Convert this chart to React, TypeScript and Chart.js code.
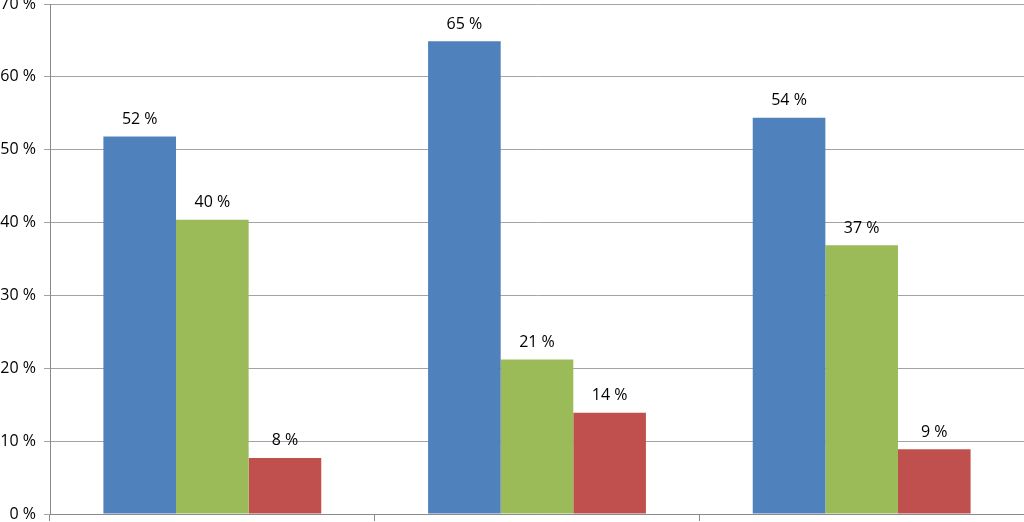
import { useEffect, useRef } from 'react';
import { Chart, registerables } from 'chart.js';

Chart.register(...registerables);

const categories = ['Group 1', 'Group 2', 'Group 3'];
const seriesBlue = [51.8, 64.9, 54.4];
const seriesGreen = [40.4, 21.2, 36.9];
const seriesRed = [7.7, 13.9, 8.9];
const yTickValues = [0, 10, 20, 30, 40, 50, 60, 70];

const colors = ['#4F81BD', '#9BBB59', '#C0504D'];
const FONT = '"Open Sans", "Noto Sans", sans-serif';

const valueLabels = {
  id: 'valueLabels',
  afterDatasetsDraw(chart: any) {
    const ctx = chart.ctx;
    ctx.save();
    ctx.font = `16px ${FONT}`;
    ctx.fillStyle = '#000';
    ctx.textAlign = 'center';
    ctx.textBaseline = 'middle';
    chart.data.datasets.forEach((ds: any, i: number) => {
      const meta = chart.getDatasetMeta(i);
      meta.data.forEach((bar: any, j: number) => {
        ctx.fillText(Math.round(ds.data[j]) + ' %', bar.x, bar.y - 17);
      });
    });
    ctx.restore();
  },
};

export default function App() {
  const ref = useRef<HTMLCanvasElement | null>(null);
  useEffect(() => {
    document.body.style.margin = '0';
    const chart = new Chart(ref.current as HTMLCanvasElement, {
      type: 'bar',
      data: {
        labels: categories,
        datasets: [
          { label: 'A', data: seriesBlue, backgroundColor: colors[0], borderWidth: 0 },
          { label: 'B', data: seriesGreen, backgroundColor: colors[1], borderWidth: 0 },
          { label: 'C', data: seriesRed, backgroundColor: colors[2], borderWidth: 0 },
        ],
      },
      options: {
        animation: false,
        responsive: true,
        maintainAspectRatio: false,
        layout: { padding: { top: 4, right: 0, bottom: 0, left: 0 } },
        datasets: { bar: { categoryPercentage: 0.671, barPercentage: 1 } },
        plugins: { legend: { display: false }, tooltip: { enabled: false } },
        scales: {
          x: {
            offset: true,
            ticks: { display: false },
            grid: {
              display: true,
              offset: true,
              drawOnChartArea: false,
              drawTicks: true,
              tickLength: 7,
              color: '#8a8a8a',
            },
            border: { display: true, color: '#8a8a8a' },
            afterFit: (s: any) => {
              s.height = 8;
            },
          },
          y: {
            min: 0,
            max: 70,
            afterBuildTicks: (s: any) => {
              s.ticks = yTickValues.map((v) => ({ value: v }));
            },
            ticks: {
              callback: (v: any) => v + ' %',
              font: { size: 16, family: FONT },
              color: '#000',
              padding: 8,
            },
            grid: { color: '#a3a3a3', tickLength: 6 },
            border: { display: true, color: '#8a8a8a' },
            afterFit: (s: any) => {
              s.width = 50;
              s.paddingTop = 0;
              s.paddingBottom = 0;
            },
          },
        },
      },
      plugins: [valueLabels],
    });
    return () => chart.destroy();
  }, []);
  return (
    <div style={{ width: 1024, height: 522, position: 'relative' }}>
      <canvas ref={ref} />
    </div>
  );
}
